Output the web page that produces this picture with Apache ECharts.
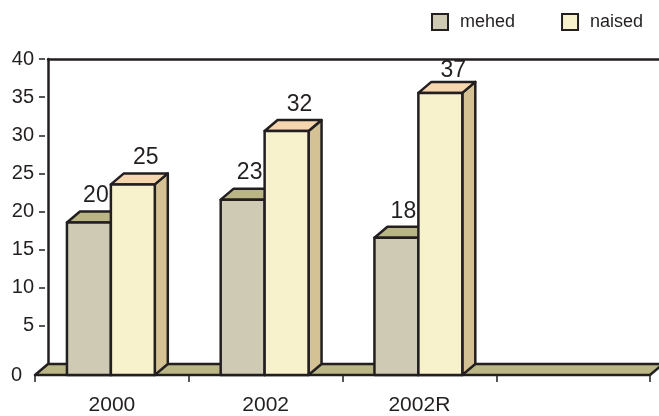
<!DOCTYPE html>
<html>
<head>
<meta charset="utf-8">
<style>
  html, body { margin: 0; padding: 0; background: #fff; }
  #chart { width: 659px; height: 416px; }
</style>
<script src="https://cdn.jsdelivr.net/npm/echarts@6/dist/echarts.min.js"></script>
</head>
<body>
<div id="chart"></div>
<script>
// Categories and values
const categories = ['2000', '2002', '2002R', ''];
const mehed = [20, 23, 18];
const naised = [25, 32, 37];
const yTicks = [5, 10, 15, 20, 25, 30, 35, 40];
const seriesNames = ['mehed', 'naised'];

// Drawing style
const FONT = "'Liberation Sans', Arial, sans-serif";
const INK = '#231F20';
const LINE_W = 2.5;
const DX = 13;   // depth offset, horizontal
const DY = 11;   // depth offset, vertical
const colors = {
  mehed: { front: '#CFCAB4', top: '#BAB584', side: '#BAB584' },
  naised: { front: '#F8F2CC', top: '#F5D6AE', side: '#D4C295' }
};
const floorColor = '#BBB685';

function barRenderer(shade, f0, f1, labelShift) {
  return function (params, api) {
    const cat = api.value(0);
    const v = api.value(1);
    const back = api.coord([cat, v]);
    const base = api.coord([cat, 0]);
    const bw = api.size([1, 0])[0];
    const fc = back[0] - DX;
    const x0 = fc + f0 * bw;
    const x1 = fc + f1 * bw;
    const ft = back[1] + DY;
    const fb = base[1] + DY;
    // keep value labels below the top edge of the plot
    const labelY = Math.max(back[1] - 4, params.coordSys.y + 23);
    const stroke = { stroke: INK, lineWidth: LINE_W, lineJoin: 'round' };
    return {
      type: 'group',
      children: [
        {
          type: 'polygon',
          shape: { points: [[x1, ft], [x1 + DX, ft - DY], [x1 + DX, fb - DY], [x1, fb]] },
          style: Object.assign({ fill: shade.side }, stroke)
        },
        {
          type: 'polygon',
          shape: { points: [[x0, ft], [x1, ft], [x1 + DX, ft - DY], [x0 + DX, ft - DY]] },
          style: Object.assign({ fill: shade.top }, stroke)
        },
        {
          type: 'polygon',
          shape: { points: [[x0, ft], [x1, ft], [x1, fb], [x0, fb]] },
          style: Object.assign({ fill: shade.front }, stroke)
        },
        {
          type: 'text',
          z2: 10,
          style: {
            text: String(v),
            x: (x0 + x1) / 2 + DX + labelShift,
            y: labelY,
            align: 'center',
            verticalAlign: 'bottom',
            fontFamily: FONT,
            fontSize: 23,
            fill: INK
          }
        }
      ]
    };
  };
}

function floorRenderer(params, api) {
  const cs = params.coordSys;
  const by = cs.y + cs.height;
  return {
    type: 'polygon',
    shape: {
      points: [[cs.x, by], [cs.x + cs.width, by], [cs.x + cs.width - DX, by + DY], [cs.x - DX, by + DY]]
    },
    style: { fill: floorColor, stroke: INK, lineWidth: LINE_W, lineJoin: 'round' }
  };
}

const chart = echarts.init(document.getElementById('chart'), null, { renderer: 'canvas' });

chart.setOption({
  animation: false,
  backgroundColor: '#fff',
  legend: {
    orient: 'horizontal',
    left: 431,
    top: 13,
    width: 228,
    icon: 'rect',
    itemWidth: 16,
    itemHeight: 16,
    itemGap: 46,
    padding: 0,
    data: [
      { name: seriesNames[0], itemStyle: { color: colors.mehed.front, borderColor: INK, borderWidth: 2 } },
      { name: seriesNames[1], itemStyle: { color: colors.naised.front, borderColor: INK, borderWidth: 2 } }
    ],
    textStyle: { fontFamily: FONT, fontSize: 18, color: INK, padding: [0, 0, 0, 7] },
    selectedMode: false
  },
  grid: [
    // back wall plane
    { left: 48, top: 59, width: 615, height: 305, outerBoundsMode: 'none', containLabel: false },
    // front plane (floor front edge)
    { left: 35, top: 70, width: 615, height: 305, outerBoundsMode: 'none', containLabel: false }
  ],
  xAxis: [
    {
      type: 'category', gridIndex: 0, data: categories, boundaryGap: true,
      axisLine: { show: false }, axisTick: { show: false }, axisLabel: { show: false }
    },
    {
      type: 'category', gridIndex: 0, position: 'top', data: categories,
      axisLine: { show: true, onZero: false, lineStyle: { color: INK, width: LINE_W } },
      axisTick: { show: false }, axisLabel: { show: false }
    },
    {
      type: 'category', gridIndex: 1, data: categories, boundaryGap: true,
      axisLine: { show: false, onZero: false },
      axisTick: { show: true, length: 7, lineStyle: { color: INK, width: 1.5 } },
      axisLabel: { show: true, margin: 20, fontFamily: FONT, fontSize: 21, color: INK }
    }
  ],
  yAxis: [
    {
      type: 'value', gridIndex: 0, position: 'left', min: 0, max: 40, interval: 5,
      axisLine: { show: true, lineStyle: { color: INK, width: LINE_W } },
      axisTick: { show: false }, axisLabel: { show: false }, splitLine: { show: false }
    },
    {
      type: 'value', gridIndex: 0, position: 'left', min: 0, max: 40, interval: 5, offset: 3,
      axisLine: { show: false },
      axisTick: { show: true, length: 6, customValues: yTicks, lineStyle: { color: INK, width: 1.5 } },
      axisLabel: { show: true, margin: 11, customValues: yTicks, fontFamily: FONT, fontSize: 20, color: INK },
      splitLine: { show: false }
    },
    {
      type: 'value', gridIndex: 1, position: 'left', min: 0, max: 40, interval: 5,
      axisLine: { show: false }, axisTick: { show: false },
      axisLabel: { show: true, margin: 13, customValues: [0], fontFamily: FONT, fontSize: 20, color: INK },
      splitLine: { show: false }
    }
  ],
  series: [
    {
      name: 'floor', type: 'custom', xAxisIndex: 0, yAxisIndex: 0, z: 1,
      renderItem: floorRenderer, data: [[0, 0]], silent: true
    },
    {
      name: seriesNames[0], type: 'custom', xAxisIndex: 0, yAxisIndex: 0, z: 2,
      itemStyle: { color: colors.mehed.front },
      renderItem: barRenderer(colors.mehed, -45 / 154, -1 / 154, -6),
      data: mehed.map((v, i) => [i, v])
    },
    {
      name: seriesNames[1], type: 'custom', xAxisIndex: 0, yAxisIndex: 0, z: 3,
      itemStyle: { color: colors.naised.front },
      renderItem: barRenderer(colors.naised, -1 / 154, 43 / 154, 0),
      data: naised.map((v, i) => [i, v])
    }
  ]
});
</script>
</body>
</html>
